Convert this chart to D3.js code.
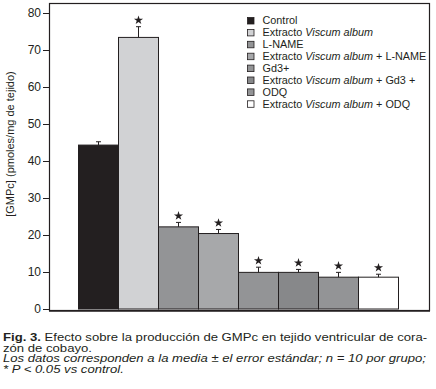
<!DOCTYPE html>
<html>
<head>
<meta charset="utf-8">
<script src="https://cdn.jsdelivr.net/npm/d3@7"></script>
<style>
  body { margin: 0; background: #fff; }
  svg { display: block; font-family: "Liberation Sans", Arial, sans-serif; }
</style>
</head>
<body>
<div id="chart"></div>
<script>
// groups, in drawing order
const groups = ["Control", "Viscum", "LNAME", "ViscumLNAME", "Gd3", "ViscumGd3", "ODQ", "ViscumODQ"];
// mean [GMPc] and upper error (SEM)
const means = [44.3, 73.4, 22.2, 20.4, 9.9, 9.9, 8.6, 8.6];
const errors = [0.9, 2.9, 1.2, 1.1, 1.4, 0.8, 1.3, 0.8];
const significant = [false, true, true, true, true, true, true, true];
const fills = ["#231f20", "#d1d2d4", "#939496", "#a7a8aa", "#939496", "#87888a", "#939496", "#ffffff"];
// legend text: [plain, italic, plain]
const legendLabels = [
  ["Control", "", ""],
  ["Extracto ", "Viscum album", ""],
  ["L-NAME", "", ""],
  ["Extracto ", "Viscum album", " + L-NAME"],
  ["Gd3+", "", ""],
  ["Extracto ", "Viscum album", " + Gd3 +"],
  ["ODQ", "", ""],
  ["Extracto ", "Viscum album", " + ODQ"]
];
const yTicks = [0, 10, 20, 30, 40, 50, 60, 70, 80];

const width = 436, height = 389;
const frame = {left: 49, top: 3, right: 429, bottom: 310};

const svg = d3.select("#chart").append("svg")
  .attr("width", width)
  .attr("height", height);

const x = d3.scaleBand()
  .domain(groups)
  .range([78, 398])
  .padding(0);

const y = d3.scaleLinear()
  .domain([0, 80])
  .range([309, 13]);

// frame
svg.append("rect")
  .attr("x", frame.left + 0.5)
  .attr("y", frame.top + 0.5)
  .attr("width", frame.right - frame.left)
  .attr("height", frame.bottom - frame.top)
  .attr("fill", "none")
  .attr("stroke", "#231f20")
  .attr("stroke-width", 1.2);
// bottom edge is a little heavier in the source
svg.append("line")
  .attr("x1", frame.left).attr("x2", frame.right + 1)
  .attr("y1", frame.bottom + 0.8).attr("y2", frame.bottom + 0.8)
  .attr("stroke", "#231f20")
  .attr("stroke-width", 1.8);

// y axis
const yAxis = svg.append("g")
  .attr("transform", `translate(${frame.left},0)`)
  .call(d3.axisLeft(y).tickValues(yTicks).tickSize(6).tickPadding(2))
  .call(g => g.select(".domain").remove());
yAxis.selectAll("line").attr("stroke", "#231f20");
yAxis.selectAll("text")
  .attr("font-size", 12)
  .attr("fill", "#231f20")
  .style("font-family", "Liberation Sans, Arial, sans-serif");

svg.append("text")
  .attr("transform", `translate(14,144) rotate(-90)`)
  .attr("text-anchor", "middle")
  .attr("font-size", 11)
  .attr("fill", "#231f20")
  .text("[GMPc] (pmoles/mg de tejido)");

// bars
svg.append("g")
  .selectAll("rect")
  .data(groups)
  .join("rect")
    .attr("x", d => x(d) + 0.5)
    .attr("y", (d, i) => y(means[i]))
    .attr("width", x.bandwidth())
    .attr("height", (d, i) => y(0) - y(means[i]))
    .attr("fill", (d, i) => fills[i])
    .attr("stroke", "#231f20")
    .attr("stroke-width", 1);

// error bars (upper only)
const err = svg.append("g")
  .attr("stroke", "#231f20")
  .attr("stroke-width", 1);
groups.forEach((g, i) => {
  const cx = x(g) + x.bandwidth() / 2 + 0.5;
  err.append("line")
    .attr("x1", cx).attr("x2", cx)
    .attr("y1", y(means[i])).attr("y2", y(means[i] + errors[i]));
  err.append("line")
    .attr("x1", cx - 2.5).attr("x2", cx + 2.5)
    .attr("y1", y(means[i] + errors[i])).attr("y2", y(means[i] + errors[i]));
});

// significance stars
svg.append("g")
  .selectAll("path")
  .data(groups.filter((g, i) => significant[i]))
  .join("path")
    .attr("d", d3.symbol(d3.symbolStar, 26))
    .attr("transform", d => {
      const i = groups.indexOf(d);
      return `translate(${x(d) + x.bandwidth() / 2 + 0.5},${y(means[i] + errors[i]) - 6.5})`;
    })
    .attr("fill", "#231f20");

// legend
const legend = svg.append("g")
  .attr("transform", "translate(247,20.5)");
const legendTexts = [];
legendLabels.forEach((parts, i) => {
  const row = legend.append("g")
    .attr("transform", `translate(0,${i * 11.9})`);
  row.append("rect")
    .attr("x", 0.5).attr("y", -3)
    .attr("width", 6.5).attr("height", 6.5)
    .attr("fill", fills[i])
    .attr("stroke", "#231f20")
    .attr("stroke-width", 0.8);
  const t = row.append("g").attr("transform", "translate(15.5,0)")
    .append("text")
    .attr("y", 3.8)
    .attr("font-size", 10.3)
    .attr("fill", "#231f20");
  t.append("tspan").text(parts[0]);
  if (parts[1]) t.append("tspan").attr("font-style", "italic").text(parts[1]);
  if (parts[2]) t.append("tspan").text(parts[2]);
  legendTexts.push(t);
});
// the source lettering is wider than the font here: stretch to the same width
const lx = 164 / legendTexts[3].node().getComputedTextLength();
legendTexts.forEach(t => t.attr("transform", `scale(${lx},1)`));

// caption
const cap = svg.append("g")
  .attr("font-size", 11.6)
  .attr("fill", "#231f20");
const l1 = cap.append("text").attr("y", 341.5);
l1.append("tspan").attr("font-weight", "bold").text("Fig. 3.");
l1.append("tspan").text(" Efecto sobre la producción de GMPc en tejido ventricular de cora-");
const l2 = cap.append("text").attr("y", 352).text("zón de cobayo.");
const l3 = cap.append("text").attr("y", 362.5).attr("font-style", "italic")
  .text("Los datos corresponden a la media ± el error estándar; n = 10 por grupo;");
const l4 = cap.append("text").attr("y", 373).attr("font-style", "italic")
  .text("* P < 0.05 vs control.");
const cx = 424 / l1.node().getComputedTextLength();
[l1, l2, l3, l4].forEach(t => t.attr("transform", `translate(3,0) scale(${cx},1)`));
</script>
</body>
</html>
